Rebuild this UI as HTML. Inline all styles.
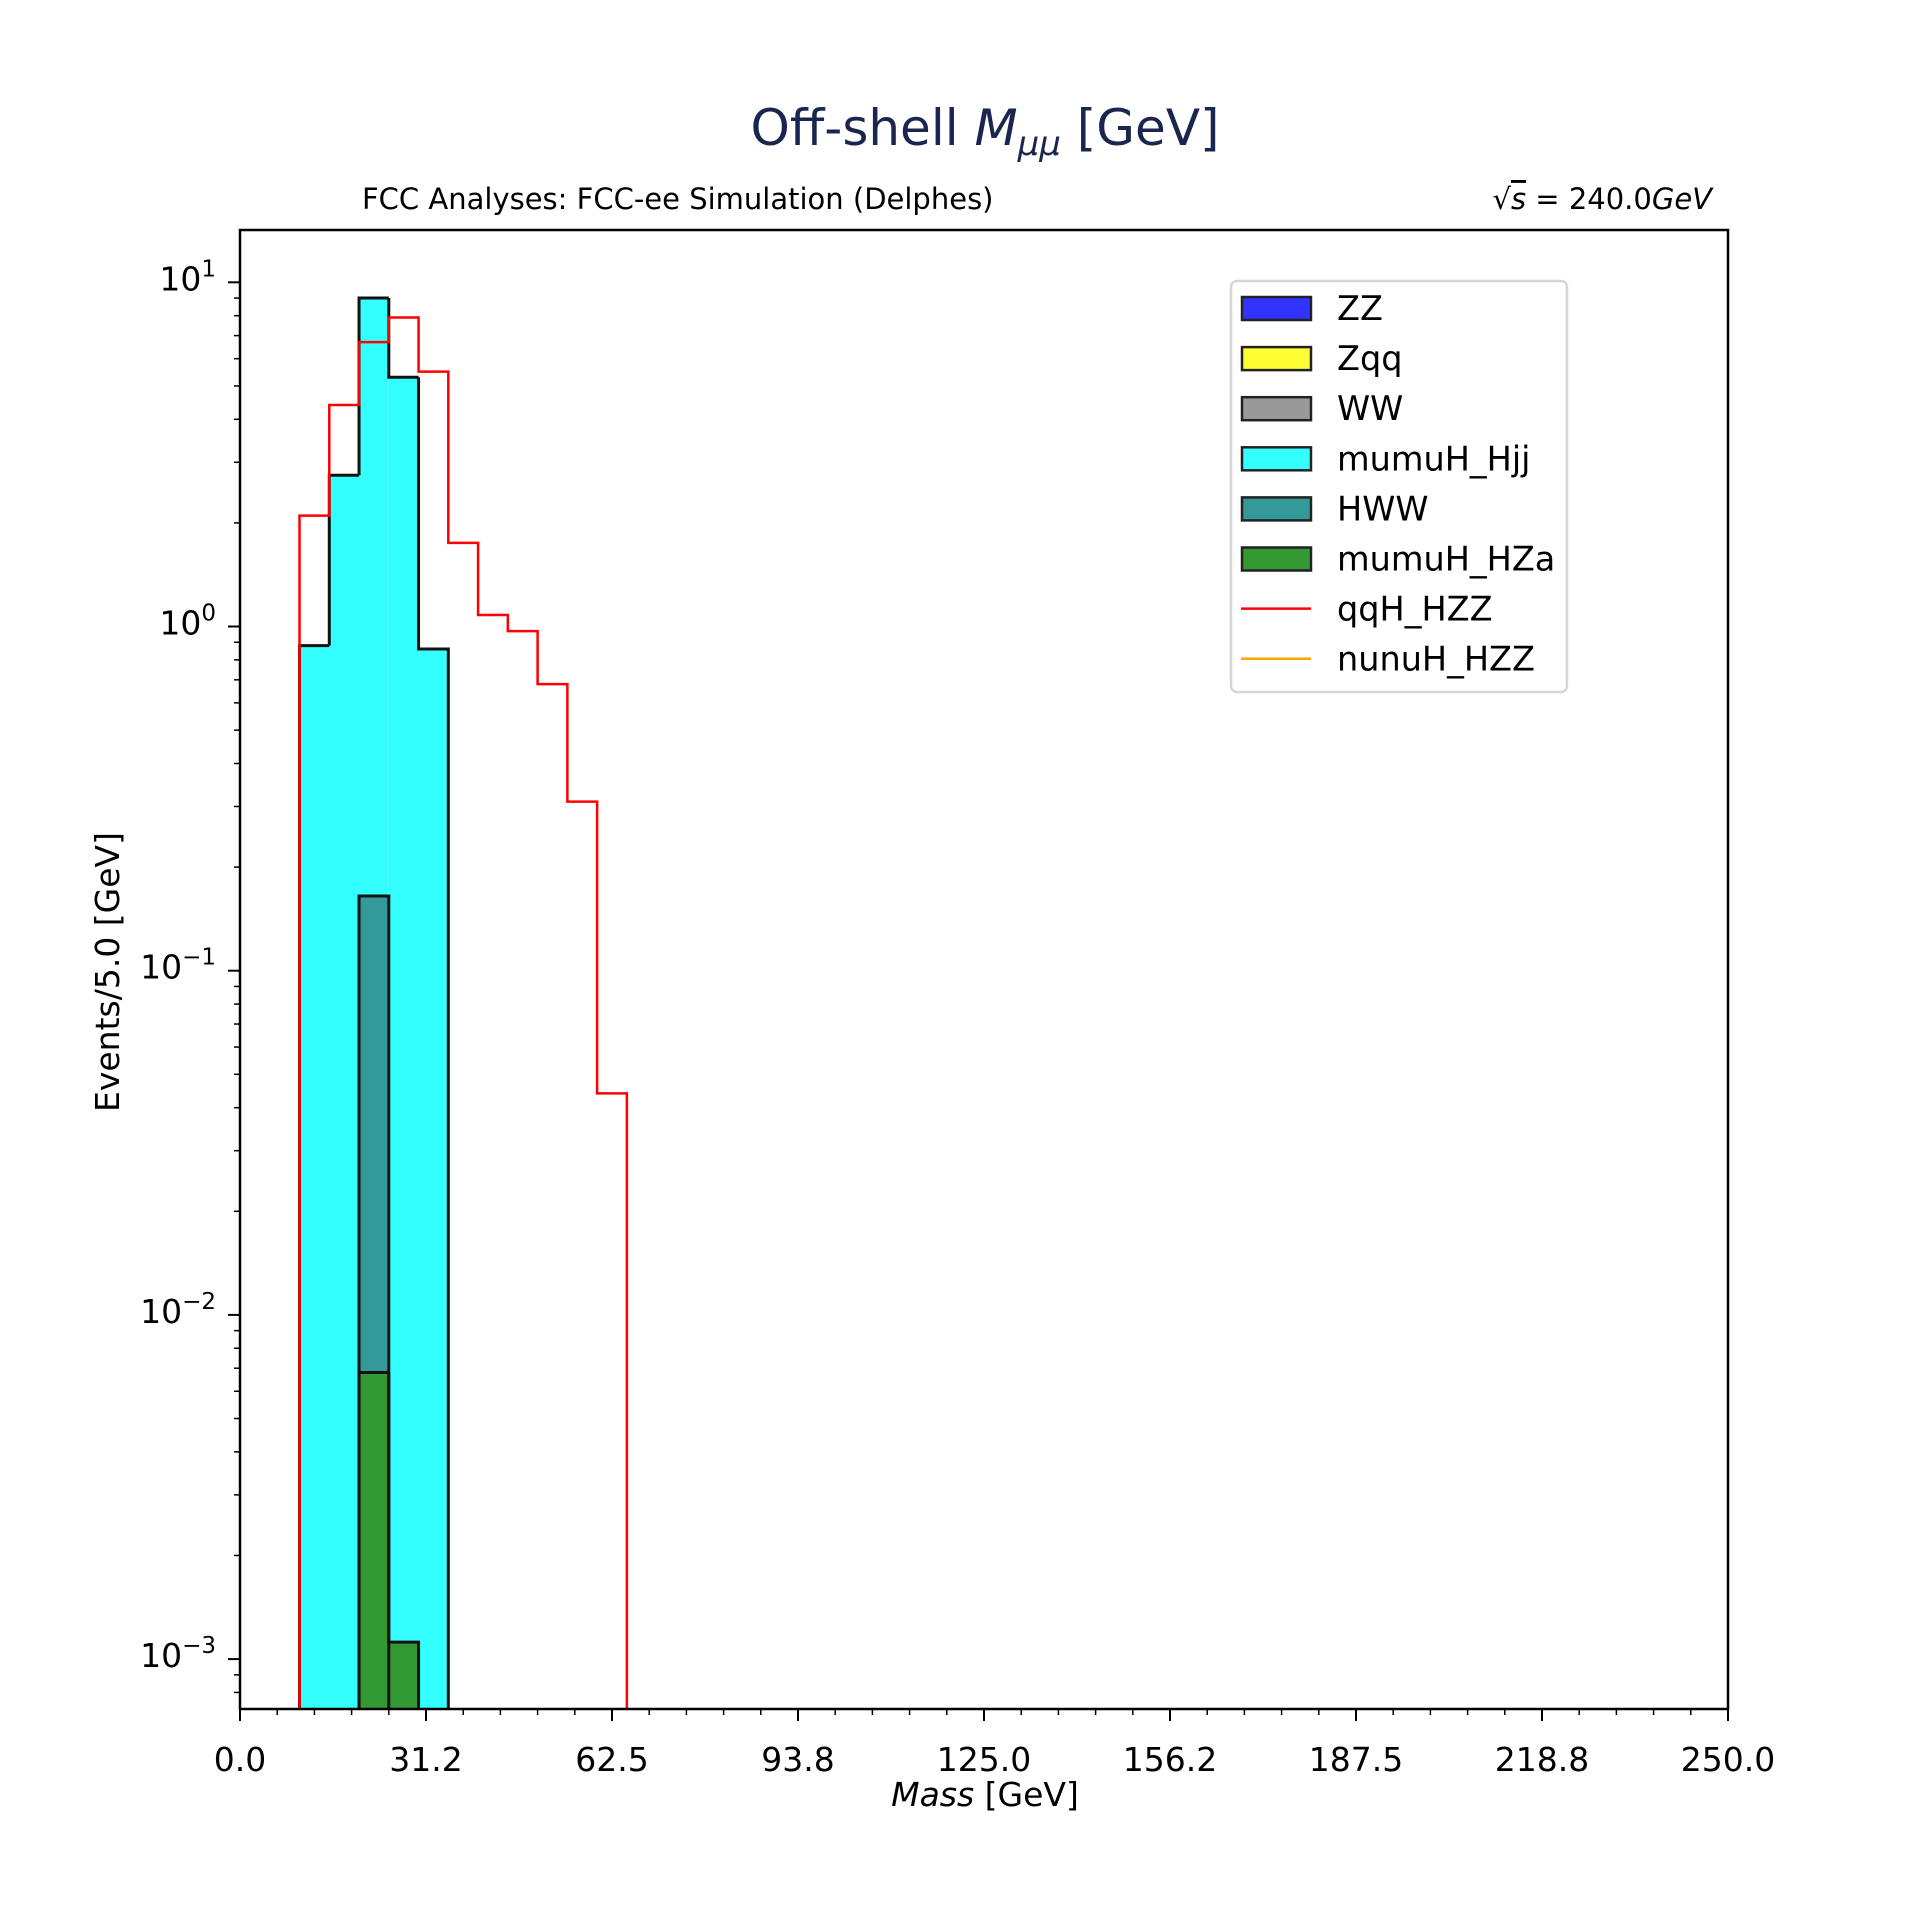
<!DOCTYPE html>
<html><head><meta charset="utf-8"><style>
html,body{margin:0;padding:0;background:#fff;}
svg{display:block;font-family:"DejaVu Sans","Liberation Sans",sans-serif;}
</style></head><body>
<svg id="chart" width="1920" height="1920" viewBox="0 0 1920 1920" xmlns="http://www.w3.org/2000/svg">
<rect width="1920" height="1920" fill="#fff"/>
<text x="985" y="145" text-anchor="middle" font-size="50" fill="#1a2650">Off-shell <tspan font-style="italic">M</tspan><tspan font-style="italic" font-size="34" dy="10">μμ</tspan><tspan dy="-10"> [GeV]</tspan></text>
<text x="362" y="209" font-size="29">FCC Analyses: FCC-ee Simulation (Delphes)</text>
<text x="1712" y="209" text-anchor="end" font-size="29">√<tspan font-style="italic" text-decoration="overline">s</tspan> = 240.0<tspan font-style="italic">GeV</tspan></text>
<g id="plot"></g>
<text x="985" y="1806" text-anchor="middle" font-size="33"><tspan font-style="italic">Mass</tspan> [GeV]</text>
<text transform="translate(119,972) rotate(-90)" text-anchor="middle" font-size="33">Events/5.0 [GeV]</text>
<g id="legend"></g>
</svg>
<script>
const binEdgesStart = [10,15,20,25,30,35,40,45,50,55,60];
const hzaValues = [0,0,0.0068,0.00112,0,0,0,0,0,0,0];
const hwwValues = [0,0,0.158,0,0,0,0,0,0,0,0];
const hjjValues = [0.88,2.75,8.84,5.3,0.86,0,0,0,0,0,0];
const qqhValues = [2.1,4.4,6.7,7.9,5.5,1.75,1.08,0.97,0.68,0.31,0.044];
const xTickLabels = ["0.0","31.2","62.5","93.8","125.0","156.2","187.5","218.8","250.0"];
const yTickExps = [-3,-2,-1,0,1];
const legendNames = ["ZZ","Zqq","WW","mumuH_Hjj","HWW","mumuH_HZa","qqH_HZZ","nunuH_HZZ"];
const legendColors = ["#3333ff","#ffff33","#999999","#33ffff","#339999","#339933","#ff0000","#ffa500"];

const NS="http://www.w3.org/2000/svg";
const L=240,R=1728,T=230,B=1709;
const XMIN=0,XMAX=250,LYMIN=-3.145,LYMAX=1.152,BW=5;
const xs=v=>L+(v-XMIN)/(XMAX-XMIN)*(R-L);
const ys=v=>{if(v<=0)return B+5;const y=T+(LYMAX-Math.log10(v))/(LYMAX-LYMIN)*(B-T);return Math.min(y,B+5);};
const plot=document.getElementById('plot');
function mk(tag,attrs,parent){const e=document.createElementNS(NS,tag);for(const k in attrs)e.setAttribute(k,attrs[k]);(parent||plot).appendChild(e);return e;}

const clip=mk('clipPath',{id:'pc'});mk('rect',{x:L,y:T,width:R-L,height:B-T},clip);
const g=mk('g',{'clip-path':'url(#pc)'});

function drawLayer(bottoms,tops,fill,name){
  for(let i=0;i<binEdgesStart.length;i++){
    if(tops[i]<=bottoms[i])continue;
    const x0=xs(binEdgesStart[i]),x1=xs(binEdgesStart[i]+BW);
    const r=mk('rect',{x:x0,y:ys(tops[i]),width:x1-x0,height:ys(bottoms[i])-ys(tops[i]),fill:fill},g);
    
    
  }
}
const z=binEdgesStart.map(()=>0);
const c1=hzaValues.slice();
const c2=c1.map((v,i)=>v+hwwValues[i]);
const c3=c2.map((v,i)=>v+hjjValues[i]);
const c2v=c2.map((v,i)=>hwwValues[i]>0?v:0);
drawLayer(z,c3,'#33ffff','mumuh-hjj');
drawLayer(z,c2v,'#339999','hww');
drawLayer(z,c1,'#339933','mumuh-hza');
function outline(tops,name){
  let d='';
  for(let i=0;i<binEdgesStart.length;i++){
    if(tops[i]<=0)continue;
    const x0=xs(binEdgesStart[i]),x1=xs(binEdgesStart[i]+BW);
    const prev=i>0?tops[i-1]:0,next=i<tops.length-1?tops[i+1]:0;
    d+=`M${x0},${ys(Math.max(prev,0))}V${ys(tops[i])}H${x1}`;
    if(next<=0)d+=`V${B+5}`;
  }
  const p=mk('path',{d:d,fill:'none',stroke:'#111','stroke-width':3},g);
  
  
}
outline(c3,'stack-outline-hjj');
outline(c2v,'stack-outline-hww');
outline(c1,'stack-outline-hza');
{
  let d=`M${xs(binEdgesStart[0])},${B+5}`;
  for(let i=0;i<binEdgesStart.length;i++){
    d+=`V${ys(qqhValues[i])}H${xs(binEdgesStart[i]+BW)}`;
  }
  d+=`V${B+5}`;
  const p=mk('path',{d:d,fill:'none',stroke:'#ff0000','stroke-width':2.5},g);
  
  
}
const fr=mk('rect',{x:L,y:T,width:R-L,height:B-T,fill:'none',stroke:'#000','stroke-width':2.5});


for(let k=0;k<=40;k++){
  const v=k*6.25,x=xs(v),major=k%5===0;
  mk('line',{x1:x,x2:x,y1:B,y2:B+(major?12:6),stroke:'#000','stroke-width':major?2:1.5});
}
xTickLabels.forEach((s,i)=>{
  const t=mk('text',{x:xs(i*31.25),y:1771,'text-anchor':'middle','font-size':33});
  t.textContent=s;
  
  
});
yTickExps.forEach(e=>{
  const y=ys(Math.pow(10,e));
  mk('line',{x1:L-12,x2:L,y1:y,y2:y,stroke:'#000','stroke-width':2});
  const t=mk('text',{x:L-24,y:y+8,'text-anchor':'end','font-size':33});
  
  
  t.appendChild(document.createTextNode('10'));
  const ts=document.createElementNS(NS,'tspan');ts.setAttribute('font-size','23');ts.setAttribute('dy','-14');
  ts.textContent=e<0?'−'+(-e):String(e);t.appendChild(ts);
});
for(let e=-4;e<=1;e++)for(let m=2;m<=9;m++){
  const v=m*Math.pow(10,e);const l=Math.log10(v);
  if(l<LYMIN||l>LYMAX)continue;
  const y=ys(v);mk('line',{x1:L-6,x2:L,y1:y,y2:y,stroke:'#000','stroke-width':1.5});
}
const lg=document.getElementById('legend');
const lb=mk('rect',{x:1231,y:281,width:336,height:411,rx:6,fill:'#fff',stroke:'#d6d6d6','stroke-width':2.5},lg);


legendNames.forEach((n,i)=>{
  const cy=308+i*50.1;
  const grp=mk('g',{},lg);
  
  
  if(i<6){mk('rect',{x:1242,y:cy-11,width:69,height:23,fill:legendColors[i],stroke:'#222','stroke-width':2.5},grp);}
  else{mk('line',{x1:1241,x2:1311,y1:cy,y2:cy,stroke:legendColors[i],'stroke-width':2.5},grp);}
  const t=mk('text',{x:1337,y:cy+12,'font-size':33.5},grp);t.textContent=n;
});
</script>
</body></html>
